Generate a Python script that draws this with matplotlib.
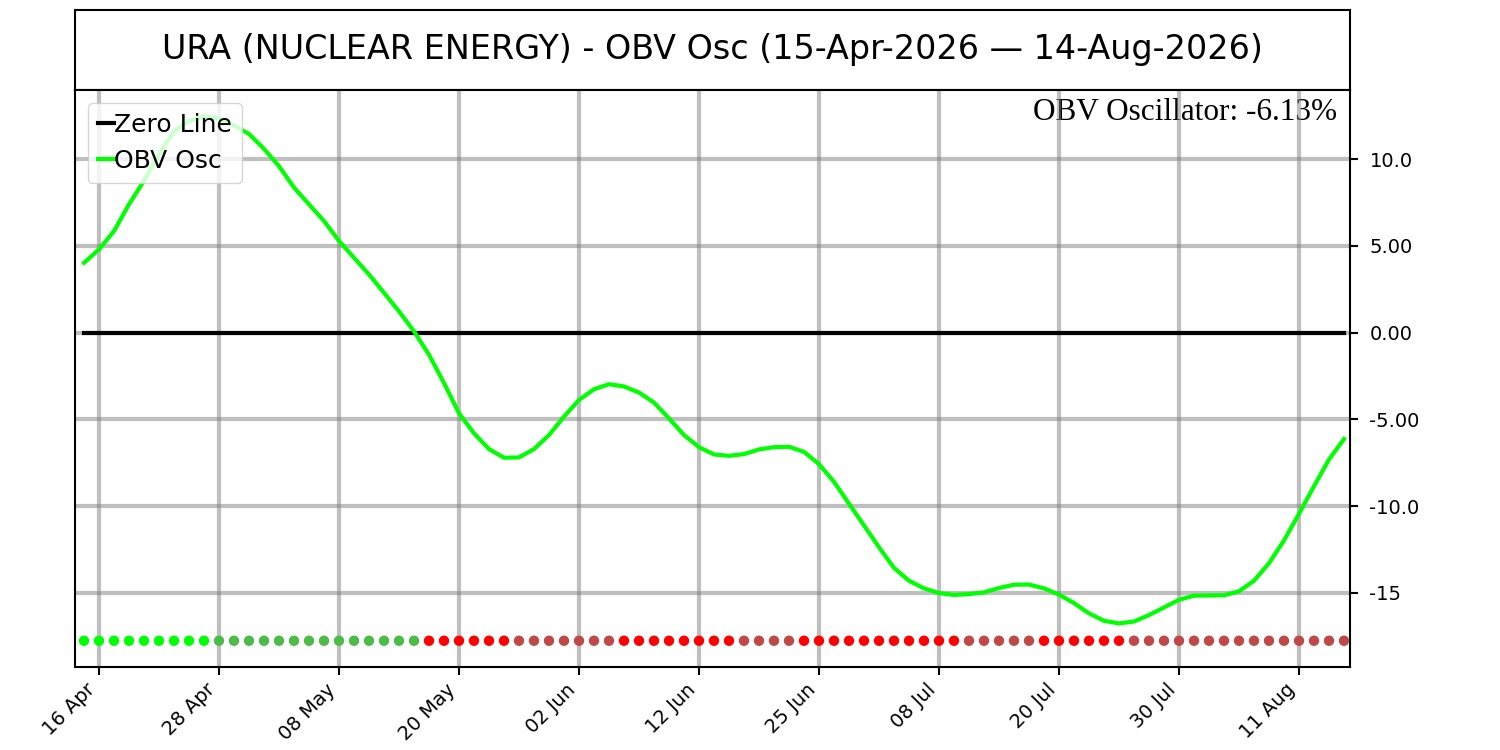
import numpy as np
import pandas as pd
import matplotlib
matplotlib.use('Agg')
import matplotlib.pyplot as plt

ticker = "URA (NUCLEAR ENERGY)"
start_date = "2026-04-15"
end_date = "2026-08-14"
holidays = ["2026-05-25", "2026-06-19", "2026-07-03"]

obv_osc = [4.03, 4.8, 5.86, 7.4, 8.76, 10.3, 11.6, 12.2, 12.48, 12.34,
           11.94, 11.46, 10.6, 9.6, 8.37, 7.4, 6.44, 5.29, 4.32, 3.36,
           2.3, 1.23, 0.08, -1.27, -2.9, -4.65, -5.8, -6.71, -7.21, -7.19,
           -6.71, -5.9, -4.84, -3.88, -3.26, -2.97, -3.1, -3.45, -4.03, -4.94,
           -5.9, -6.6, -7.02, -7.1, -7.0, -6.73, -6.6, -6.58, -6.87, -7.58,
           -8.6, -9.86, -11.11, -12.37, -13.56, -14.3, -14.74, -15.01, -15.12, -15.07,
           -14.97, -14.72, -14.53, -14.52, -14.74, -15.1, -15.59, -16.18, -16.61, -16.76,
           -16.65, -16.28, -15.84, -15.4, -15.16, -15.15, -15.14, -14.91, -14.3, -13.29,
           -11.98, -10.44, -8.85, -7.31, -6.13]

ytick_vals = [-15, -10, -5, 0, 5, 10]
ytick_labels = ['-15', '-10.0', '-5.00', '0.00', '5.00', '10.0']

bday = pd.offsets.CustomBusinessDay(holidays=holidays)
dates = pd.date_range(start_date, end_date, freq=bday)
osc = np.array(obv_osc)
x = np.arange(len(osc))

# dot colours: sign of osc and direction
rising = np.diff(osc, prepend=osc[0]) >= 0
colors = []
for v, r in zip(osc, rising):
    if v >= 0:
        colors.append('#00ff00' if r else '#4cbb47')
    else:
        colors.append('#bf4848' if r else '#ff0000')

fig = plt.figure(figsize=(15, 7.5), dpi=100)
ax_t = fig.add_axes([0.05, 0.88, 0.85, 0.1067])
ax = fig.add_axes([0.05, 0.1107, 0.85, 0.7693])

ax_t.set_xticks([])
ax_t.set_yticks([])
for s in ax_t.spines.values():
    s.set_linewidth(1.5)
ax_t.text(0.5, 0.5, f"{ticker} - OBV Osc ({dates[0]:%d-%b-%Y} \u2014 {dates[-1]:%d-%b-%Y})",
          ha='center', va='center', fontsize=24, transform=ax_t.transAxes)

ax.plot(x, np.zeros(len(x)), color='black', lw=3, label='Zero Line')
ax.plot(x, osc, color='#00ff00', lw=3, label='OBV Osc')
ax.scatter(x, np.full(len(x), osc.min() - 1), c=colors, s=42, zorder=3)

ax.set_xlim(-0.6, len(x) - 0.6)
ax.yaxis.tick_right()
ax.tick_params(axis='both', length=6, width=1.5, labelsize=14)
ax.tick_params(axis='y', pad=8)
ticks = x[1::8]
ax.set_xticks(ticks)
ax.set_xticklabels([dates[i].strftime('%d %b') for i in ticks], rotation=45, ha='right')
ax.set_yticks(ytick_vals)
ax.set_yticklabels(ytick_labels)
ax.grid(True, color='gray', alpha=0.5, lw=3)
for s in ax.spines.values():
    s.set_linewidth(1.5)

ax.text(0.99, 0.987, f"OBV Oscillator: {osc[-1]:.2f}%", transform=ax.transAxes,
        ha='right', va='top', fontsize=22.5, family='Liberation Serif', zorder=1)

ax.legend(loc='upper left', fontsize=18, handlelength=0.65, handletextpad=0.0,
          borderpad=0.4, borderaxespad=0.5)

fig.savefig('out.png')
